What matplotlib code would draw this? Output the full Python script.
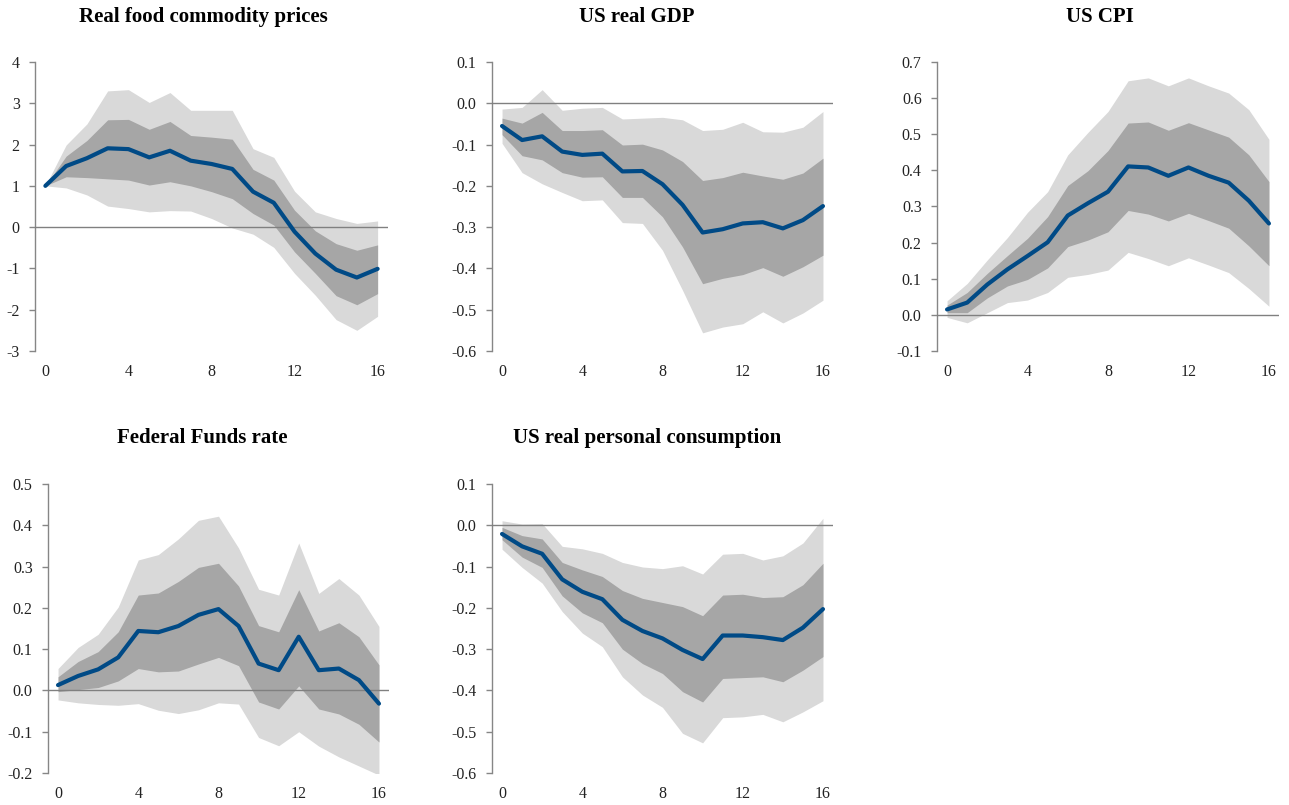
import numpy as np
import matplotlib
matplotlib.use("Agg")
import matplotlib.pyplot as plt

plt.rcParams['font.family'] = ['Liberation Serif', 'DejaVu Serif']
plt.rcParams['axes.unicode_minus'] = False

# horizon (quarters)
horizon = np.arange(17)

# Real food commodity prices
food_med = [1.0, 1.48, 1.67, 1.91, 1.89, 1.69, 1.85, 1.61, 1.53, 1.41, 0.86, 0.59, -0.11, -0.64, -1.03, -1.22, -1.01]
food_hi68 = [1.0, 1.72, 2.10, 2.60, 2.61, 2.37, 2.56, 2.22, 2.18, 2.13, 1.40, 1.14, 0.41, -0.09, -0.40, -0.56, -0.43]
food_lo68 = [1.0, 1.22, 1.20, 1.17, 1.14, 1.02, 1.10, 1.00, 0.86, 0.69, 0.33, 0.05, -0.60, -1.12, -1.66, -1.88, -1.61]
food_hi90 = [1.0, 1.99, 2.50, 3.30, 3.33, 3.02, 3.26, 2.83, 2.83, 2.83, 1.90, 1.69, 0.87, 0.37, 0.21, 0.09, 0.15]
food_lo90 = [1.0, 0.95, 0.78, 0.51, 0.45, 0.37, 0.40, 0.39, 0.21, -0.02, -0.17, -0.49, -1.12, -1.65, -2.24, -2.50, -2.16]

# US real GDP
gdp_med = [-0.055, -0.089, -0.080, -0.117, -0.125, -0.122, -0.165, -0.164, -0.196, -0.246, -0.313, -0.305, -0.291, -0.288, -0.303, -0.283, -0.249]
gdp_hi68 = [-0.036, -0.048, -0.022, -0.066, -0.066, -0.064, -0.101, -0.099, -0.113, -0.141, -0.187, -0.180, -0.167, -0.176, -0.184, -0.169, -0.133]
gdp_lo68 = [-0.076, -0.127, -0.137, -0.168, -0.179, -0.178, -0.228, -0.228, -0.275, -0.348, -0.437, -0.424, -0.415, -0.398, -0.419, -0.396, -0.368]
gdp_hi90 = [-0.014, -0.010, 0.033, -0.017, -0.012, -0.010, -0.038, -0.036, -0.034, -0.040, -0.066, -0.063, -0.046, -0.069, -0.070, -0.058, -0.020]
gdp_lo90 = [-0.097, -0.168, -0.195, -0.216, -0.236, -0.234, -0.289, -0.291, -0.356, -0.453, -0.556, -0.542, -0.534, -0.505, -0.532, -0.508, -0.477]

# US CPI
cpi_med = [0.015, 0.034, 0.084, 0.126, 0.163, 0.201, 0.275, 0.309, 0.341, 0.411, 0.408, 0.385, 0.408, 0.385, 0.366, 0.316, 0.253]
cpi_hi68 = [0.027, 0.062, 0.115, 0.164, 0.212, 0.272, 0.358, 0.399, 0.455, 0.531, 0.534, 0.511, 0.532, 0.512, 0.492, 0.443, 0.369]
cpi_lo68 = [0.006, 0.006, 0.047, 0.080, 0.098, 0.130, 0.189, 0.207, 0.230, 0.289, 0.279, 0.260, 0.281, 0.261, 0.240, 0.191, 0.136]
cpi_hi90 = [0.039, 0.087, 0.152, 0.214, 0.284, 0.341, 0.443, 0.505, 0.563, 0.648, 0.656, 0.634, 0.656, 0.634, 0.614, 0.568, 0.486]
cpi_lo90 = [-0.007, -0.022, 0.006, 0.034, 0.041, 0.062, 0.104, 0.112, 0.124, 0.173, 0.156, 0.136, 0.158, 0.138, 0.117, 0.073, 0.024]

# Federal Funds rate
ffr_med = [0.013, 0.035, 0.051, 0.080, 0.144, 0.141, 0.156, 0.183, 0.197, 0.156, 0.065, 0.049, 0.130, 0.049, 0.053, 0.025, -0.032]
ffr_hi68 = [0.033, 0.070, 0.094, 0.142, 0.231, 0.236, 0.264, 0.298, 0.308, 0.253, 0.157, 0.142, 0.244, 0.144, 0.164, 0.130, 0.062]
ffr_lo68 = [-0.003, 0.002, 0.007, 0.023, 0.053, 0.045, 0.047, 0.064, 0.080, 0.060, -0.028, -0.045, 0.011, -0.045, -0.057, -0.082, -0.125]
ffr_hi90 = [0.053, 0.104, 0.136, 0.202, 0.316, 0.329, 0.367, 0.412, 0.422, 0.345, 0.245, 0.231, 0.357, 0.235, 0.271, 0.231, 0.155]
ffr_lo90 = [-0.023, -0.030, -0.034, -0.036, -0.032, -0.048, -0.056, -0.047, -0.030, -0.033, -0.114, -0.134, -0.100, -0.135, -0.161, -0.183, -0.205]

# US real personal consumption
pce_med = [-0.021, -0.051, -0.069, -0.131, -0.161, -0.179, -0.229, -0.256, -0.274, -0.302, -0.324, -0.267, -0.267, -0.271, -0.278, -0.248, -0.203]
pce_hi68 = [-0.005, -0.025, -0.033, -0.090, -0.108, -0.124, -0.158, -0.177, -0.187, -0.197, -0.219, -0.169, -0.167, -0.175, -0.173, -0.144, -0.092]
pce_lo68 = [-0.035, -0.077, -0.102, -0.171, -0.212, -0.236, -0.300, -0.335, -0.359, -0.403, -0.428, -0.371, -0.369, -0.367, -0.379, -0.351, -0.318]
pce_hi90 = [0.011, 0.003, 0.004, -0.051, -0.057, -0.068, -0.090, -0.101, -0.105, -0.098, -0.118, -0.070, -0.068, -0.084, -0.074, -0.043, 0.017]
pce_lo90 = [-0.058, -0.102, -0.140, -0.209, -0.261, -0.294, -0.367, -0.411, -0.441, -0.504, -0.527, -0.466, -0.464, -0.458, -0.476, -0.452, -0.425]

W, H = 1289, 805
fig = plt.figure(figsize=(W / 100, H / 100), dpi=100)

# (title, title centre x, title y, axes box in px: left, right, top, bottom, ylim, ystep, fmt, data)
panels = [
    ("Real food commodity prices", 203, 17, (35, 388, 62, 351), (-3, 4), 1, "{:.0f}",
     (food_med, food_lo68, food_hi68, food_lo90, food_hi90)),
    ("US real GDP", 637, 17, (492, 833, 62, 351), (-0.6, 0.1), 0.1, "{:.1f}",
     (gdp_med, gdp_lo68, gdp_hi68, gdp_lo90, gdp_hi90)),
    ("US CPI", 1100, 17, (937, 1279, 62, 351), (-0.1, 0.7), 0.1, "{:.1f}",
     (cpi_med, cpi_lo68, cpi_hi68, cpi_lo90, cpi_hi90)),
    ("Federal Funds rate", 202, 438, (48, 389, 484, 773), (-0.2, 0.5), 0.1, "{:.1f}",
     (ffr_med, ffr_lo68, ffr_hi68, ffr_lo90, ffr_hi90)),
    ("US real personal consumption", 647, 438, (492, 833, 484, 773), (-0.6, 0.1), 0.1, "{:.1f}",
     (pce_med, pce_lo68, pce_hi68, pce_lo90, pce_hi90)),
]

for title, tx, ty, box, ylim, step, fmt, data in panels:
    l, r, t, b = box
    ax = fig.add_axes([l / W, 1 - b / H, (r - l) / W, (b - t) / H])
    med, lo68, hi68, lo90, hi90 = data
    ax.fill_between(horizon, lo90, hi90, color='#d9d9d9', lw=0, zorder=1)
    ax.fill_between(horizon, lo68, hi68, color='#a6a6a6', lw=0, zorder=2)
    ax.axhline(0, color='#808080', lw=1, zorder=3)
    ax.plot(horizon, med, color='#004a86', lw=3, zorder=4, solid_capstyle='round')

    ax.set_xlim(-0.5, 16.5)
    ax.set_ylim(*ylim)
    ax.set_xticks([0, 4, 8, 12, 16])
    yt = np.arange(ylim[0], ylim[1] + step / 2, step)
    ax.set_yticks(yt)
    ax.set_yticklabels([fmt.format(v + 0.0) for v in np.round(yt, 2)])
    for s in ['top', 'right', 'bottom']:
        ax.spines[s].set_visible(False)
    ax.spines['left'].set_color('#868686')
    ax.spines['left'].set_linewidth(1)
    ax.tick_params(axis='x', length=0, pad=9, labelsize=11.5, labelcolor='#222222')
    ax.tick_params(axis='y', length=4, width=1, color='#868686', pad=7,
                   labelsize=11.5, labelcolor='#222222')
    fig.text(tx / W, 1 - ty / H, title, ha='center', va='center',
             fontsize=15, fontweight='bold')

fig.savefig('out.png', dpi=100)
